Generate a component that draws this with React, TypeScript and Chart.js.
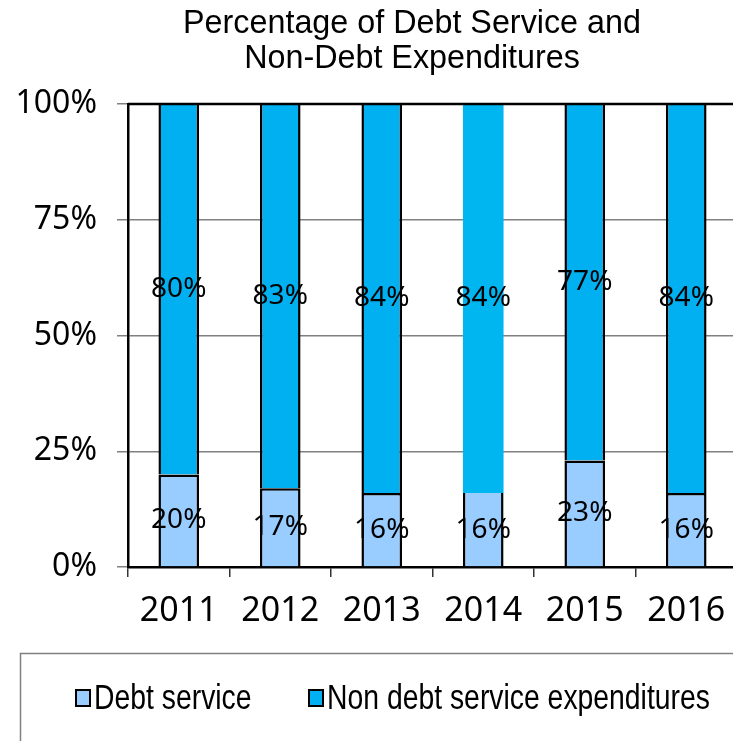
import React, { useEffect, useRef } from 'react';
import { Chart, registerables } from 'chart.js';

Chart.register(...registerables);

const years = ['2011', '2012', '2013', '2014', '2015', '2016'];
const debtService = [20, 17, 16, 16, 23, 16];
const nonDebtService = [80, 83, 84, 84, 77, 84];
const yTickValues = [0, 25, 50, 75, 100];
const titleLines = ['Percentage of Debt Service and', 'Non-Debt Expenditures'];
const seriesNames = ['Debt service', 'Non debt service expenditures'];

const DEBT_COLOR = '#99CCFF';
const NON_DEBT_COLOR = '#00B0F0';
const NON_DEBT_2014 = '#00B6F1';

const CW = 740;
const CH = 741;

function narrowText(ctx: any, text: string, x: number, y: number, sx: number) {
  ctx.save();
  ctx.translate(x, y);
  ctx.scale(sx, 1);
  ctx.fillText(text, 0, 0);
  ctx.restore();
}

const overlayPlugin = {
  id: 'overlay',
  afterDatasetsDraw(chart: any) {
    const { ctx, chartArea } = chart;
    ctx.save();
    ctx.strokeStyle = '#000';
    ctx.lineWidth = 2.5;
    ctx.beginPath();
    ctx.moveTo(chartArea.left, chartArea.top);
    ctx.lineTo(chartArea.right, chartArea.top);
    ctx.stroke();
    ctx.fillStyle = '#000';
    ctx.font = '28px "Noto Sans"';
    ctx.textAlign = 'center';
    ctx.textBaseline = 'middle';
    chart.data.datasets.forEach((ds: any, di: number) => {
      const meta = chart.getDatasetMeta(di);
      meta.data.forEach((el: any, i: number) => {
        const y = (el.y + el.base) / 2;
        ctx.fillText(ds.data[i] + '%', el.x, y);
      });
    });
    ctx.restore();
  },
  afterDraw(chart: any) {
    const { ctx } = chart;
    ctx.save();
    ctx.fillStyle = '#000';
    ctx.font = '34px "Liberation Sans", Arial';
    ctx.textAlign = 'center';
    ctx.textBaseline = 'middle';
    narrowText(ctx, titleLines[0], 412, 24, 0.95);
    narrowText(ctx, titleLines[1], 412, 59, 0.95);
    ctx.strokeStyle = '#808080';
    ctx.lineWidth = 1.5;
    ctx.strokeRect(20.5, 653.5, 800, 200);
    const items = [
      { x: 76, tx: 94 },
      { x: 309, tx: 327 },
    ];
    ctx.font = '35px "Liberation Sans", Arial';
    ctx.textAlign = 'left';
    chart.data.datasets.forEach((ds: any, di: number) => {
      const it = items[di];
      const color = Array.isArray(ds.backgroundColor) ? ds.backgroundColor[0] : ds.backgroundColor;
      ctx.fillStyle = color;
      ctx.fillRect(it.x, 690, 14, 16);
      ctx.strokeStyle = '#000';
      ctx.lineWidth = 2;
      ctx.strokeRect(it.x, 690, 14, 16);
      ctx.fillStyle = '#000';
      narrowText(ctx, ds.label, it.tx, 699, 0.81);
    });
    ctx.restore();
  },
};

export default function App() {
  const ref = useRef<HTMLCanvasElement | null>(null);
  useEffect(() => {
    if (!ref.current) return;
    const chart = new Chart(ref.current, {
      type: 'bar',
      data: {
        labels: years,
        datasets: [
          {
            label: seriesNames[0],
            data: debtService,
            backgroundColor: years.map(() => DEBT_COLOR),
            borderColor: '#000',
            borderWidth: (c: any) =>
              c.dataIndex === 3
                ? { top: 0, left: 2.5, right: 2.5, bottom: 0 }
                : { top: 2.5, left: 2.5, right: 2.5, bottom: 0 },
            borderSkipped: false,
            barPercentage: 0.4,
            categoryPercentage: 1,
          },
          {
            label: seriesNames[1],
            data: nonDebtService,
            backgroundColor: years.map((y, i) => (i === 3 ? NON_DEBT_2014 : NON_DEBT_COLOR)),
            borderColor: '#000',
            borderWidth: (c: any) =>
              c.dataIndex === 3 ? 0 : { top: 0, left: 2.5, right: 2.5, bottom: 0 },
            borderSkipped: false,
            barPercentage: 0.4,
            categoryPercentage: 1,
          },
        ],
      },
      options: {
        responsive: false,
        animation: false,
        layout: { padding: { top: 104, left: 0, right: 3, bottom: 0 } },
        plugins: {
          legend: { display: false },
          title: { display: false },
          tooltip: { enabled: false },
        },
        scales: {
          x: {
            stacked: true,
            offset: true,
            afterFit: (s: any) => {
              s.height = CH - 567;
            },
            grid: {
              display: true,
              drawOnChartArea: false,
              drawTicks: true,
              tickLength: 10,
              offset: true,
              color: '#333',
              lineWidth: 1.5,
            },
            border: { display: true, color: '#000', width: 2.5 },
            ticks: {
              color: '#000',
              font: { family: 'Noto Sans', size: 34 },
              padding: 14,
              maxRotation: 0,
            },
          },
          y: {
            stacked: true,
            min: 0,
            max: 100,
            afterFit: (s: any) => {
              s.width = 128;
            },
            afterBuildTicks: (s: any) => {
              s.ticks = yTickValues.map((v) => ({ value: v }));
            },
            grid: {
              color: '#808080',
              lineWidth: 1.5,
              tickLength: 11,
            },
            border: { display: true, color: '#000', width: 2.5 },
            ticks: {
              color: '#000',
              font: { family: 'Noto Sans', size: 32 },
              padding: 20,
              callback: (v: any) => v + '%',
            },
          },
        },
      },
      plugins: [overlayPlugin],
    });
    return () => chart.destroy();
  }, []);
  return (
    <div
      style={{
        position: 'fixed',
        left: 0,
        top: 0,
        width: 733,
        height: 741,
        overflow: 'hidden',
        background: '#fff',
      }}
    >
      <canvas ref={ref} width={CW} height={CH} style={{ display: 'block', width: CW, height: CH }} />
    </div>
  );
}
